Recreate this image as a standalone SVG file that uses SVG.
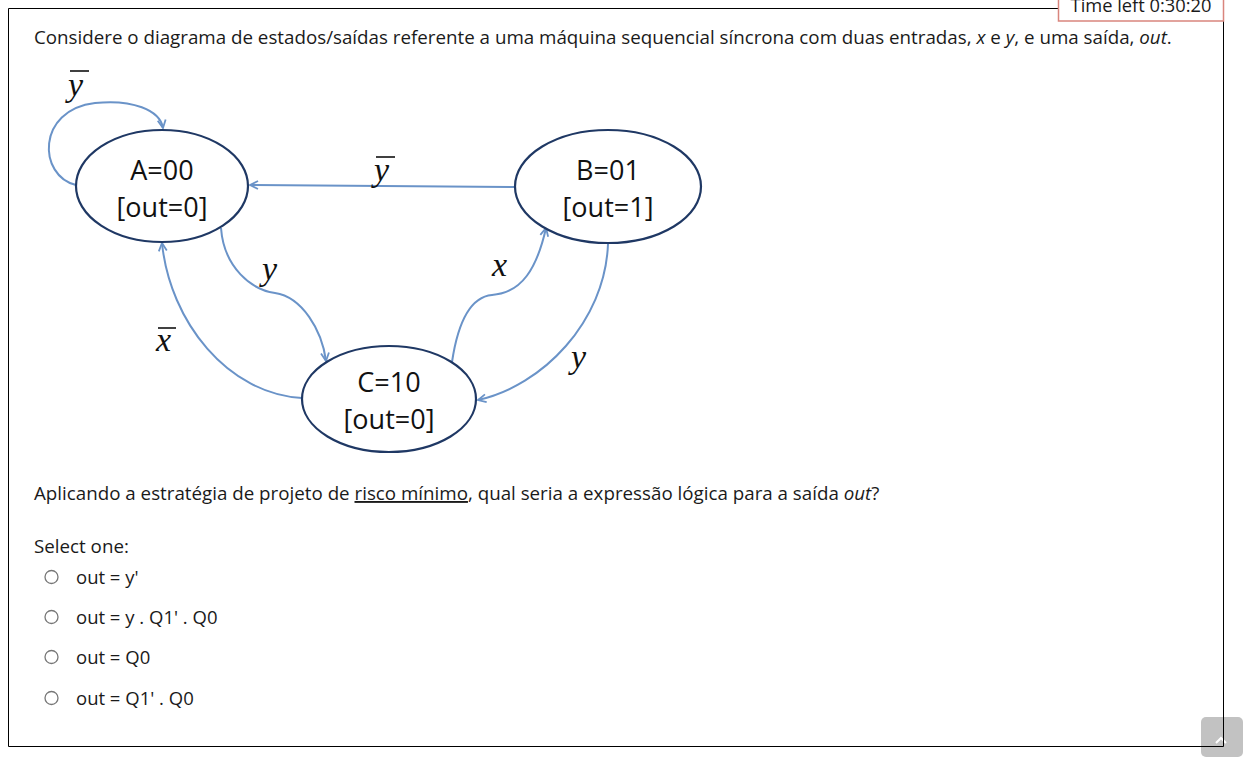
<svg xmlns="http://www.w3.org/2000/svg" width="1248" height="768" viewBox="0 0 1248 768">
<style>
.t{font-family:"Open Sans",sans-serif;font-size:18.75px;fill:#1a1a1a}
.o{font-family:"Open Sans",sans-serif;font-size:18.5px;fill:#1a1a1a}
.n{font-family:"Open Sans",sans-serif;font-size:27px;fill:#111;text-anchor:middle}
.m{font-family:"Liberation Serif",serif;font-style:italic;font-size:34px;fill:#111}
.st{fill:#fff;stroke:#1f3864;stroke-width:2.2}
.e{fill:none;stroke:#6a93c8;stroke-width:2}
.bar{stroke:#111;stroke-width:1.6}
.r{fill:#fff;stroke:#777;stroke-width:1.3}
</style>
<defs>
<marker id="ah" viewBox="0 0 10 10" refX="9" refY="5" markerWidth="10" markerHeight="10" markerUnits="userSpaceOnUse" orient="auto">
<path d="M1,1 L9,5 L1,9" fill="none" stroke="#6a93c8" stroke-width="1.8"/>
</marker>
</defs>
<rect width="1248" height="768" fill="#fff"/>
<g id="frame" fill="none" stroke="#000" stroke-width="1">
<path d="M8.5,8.5 H1058 M1223.5,21 V746.5 H8.5 V8.5"/>
</g>
<g id="timer">
<rect x="1058.5" y="-10" width="165" height="31" fill="#fff" stroke="#d9857d" stroke-width="1.5"/>
<text x="1141" y="12" class="t" text-anchor="middle" style="font-size:18.3px">Time left 0:30:20</text>
</g>
<text x="34" y="44" class="t">Considere o diagrama de estados/saídas referente a uma máquina sequencial síncrona com duas entradas, <tspan font-style="italic">x</tspan> e <tspan font-style="italic">y</tspan>, e uma saída, <tspan font-style="italic">out</tspan>.</text>
<g id="connectors">
<path class="e" marker-end="url(#ah)" d="M76,185 C38,176 36,110 95,103 C132,99 160,110 163,128"/>
<path class="e" marker-end="url(#ah)" d="M515,187 L250,185"/>
<path class="e" marker-end="url(#ah)" d="M221,228 C224,268 252,290 275,293 C302,297 322,330 326,361"/>
<path class="e" marker-end="url(#ah)" d="M452,362 C458,322 470,297 492,295 C522,293 537,268 546,228"/>
<path class="e" marker-end="url(#ah)" d="M608,244 C605,322 542,386 478,400"/>
<path class="e" marker-end="url(#ah)" d="M302,398 C228,394 170,322 162,243"/>
</g>
<g id="labels">
<text x="68" y="96" class="m">y</text><line class="bar" x1="70" y1="71" x2="89" y2="71"/>
<text x="374" y="181" class="m">y</text><line class="bar" x1="376" y1="157" x2="395" y2="157"/>
<text x="262" y="280" class="m">y</text>
<text x="492" y="276" class="m">x</text>
<text x="156" y="351" class="m">x</text><line class="bar" x1="158" y1="328" x2="176" y2="328"/>
<text x="571" y="368" class="m">y</text>
</g>
<g id="A">
<ellipse class="st" cx="162" cy="186" rx="86" ry="56"/>
<text x="162" y="180" class="n">A=00</text>
<text x="162" y="217" class="n">[out=0]</text>
</g>
<g id="B">
<ellipse class="st" cx="608" cy="186.5" rx="93" ry="56.5"/>
<text x="608" y="180" class="n">B=01</text>
<text x="608" y="217" class="n">[out=1]</text>
</g>
<g id="C">
<ellipse class="st" cx="389" cy="399" rx="87" ry="53"/>
<text x="389" y="392" class="n">C=10</text>
<text x="389" y="429" class="n">[out=0]</text>
</g>
<text x="34" y="500" class="t">Aplicando a estratégia de projeto de <tspan text-decoration="underline">risco mínimo</tspan>, qual seria a expressão lógica para a saída <tspan font-style="italic">out</tspan>?</text>
<text x="34" y="553" class="t">Select one:</text>
<g id="options">
<circle class="r" cx="51.5" cy="577" r="6.5"/><text x="76" y="584" class="o">out = y'</text>
<circle class="r" cx="51.5" cy="617" r="6.5"/><text x="76" y="624" class="o">out = y . Q1' . Q0</text>
<circle class="r" cx="51.5" cy="657" r="6.5"/><text x="76" y="664" class="o">out = Q0</text>
<circle class="r" cx="51.5" cy="698" r="6.5"/><text x="76" y="705" class="o">out = Q1' . Q0</text>
</g>
<g id="scroll">
<rect x="1201" y="717" width="42" height="40" rx="5" fill="#c2c2c2"/>
<path d="M1216,743 L1221,738 L1226,743" fill="none" stroke="#fff" stroke-width="2"/>
<path d="M1223.5,717 V746.5 H1201" fill="none" stroke="#000" stroke-width="1"/>
</g>
</svg>
